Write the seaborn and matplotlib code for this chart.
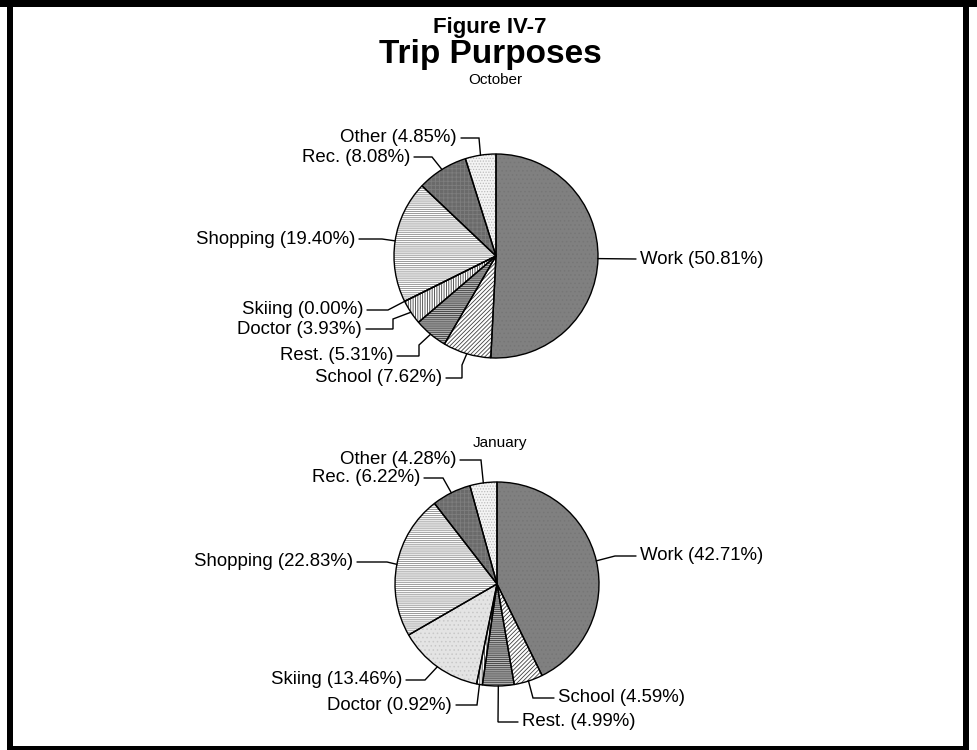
import numpy as np
import matplotlib
matplotlib.use("Agg")
import matplotlib.pyplot as plt
from matplotlib.patches import Rectangle
import seaborn as sns

# ---------------- data ----------------
categories = ["Work", "School", "Rest.", "Doctor", "Skiing", "Shopping", "Rec.", "Other"]
october = [50.81, 7.62, 5.31, 3.93, 0.00, 19.40, 8.08, 4.85]
january = [42.71, 4.59, 4.99, 0.92, 13.46, 22.83, 6.22, 4.28]
month_titles = ["October", "January"]
fig_label = "Figure IV-7"
main_title = "Trip Purposes"

# ---------------- style ----------------
sns.set_theme(style="white")
plt.rcParams['font.family'] = ['Liberation Sans', 'DejaVu Sans']
plt.rcParams['hatch.linewidth'] = 0.6
plt.rcParams['text.color'] = 'black'

face = {"Work": "#808080", "School": "#ffffff", "Rest.": "#b4b4b4", "Doctor": "#ffffff",
        "Skiing": "#e4e4e4", "Shopping": "#ffffff", "Rec.": "#6a6a6a", "Other": "#f4f4f4"}
hatch = {"Work": "....", "School": "/" * 8, "Rest.": "-" * 8, "Doctor": "|" * 7,
         "Skiing": "....", "Shopping": "-" * 8, "Rec.": "++++", "Other": "......"}
hcol = {"Work": "#767676", "School": "#404040", "Rest.": "#383838", "Doctor": "#404040",
        "Skiing": "#c8c8c8", "Shopping": "#8a8a8a", "Rec.": "#7e7e7e", "Other": "#bcbcbc"}

W, H = 977, 750
LABEL_FS = 13.4

def Y(y):
    return H - y

# label layout (image pixel coords): text x, text y, alignment, elbow points
layout_oct = {
    "Work": (640, 259, "left", []),
    "School": (442, 378, "right", [(462, 378), (462, 365)]),
    "Rest.": (393, 356, "right", [(419, 356), (419, 345)]),
    "Doctor": (362, 329, "right", [(393, 329), (393, 319)]),
    "Skiing": (363, 310, "right", [(388, 310)]),
    "Shopping": (355, 239, "right", [(382, 239)]),
    "Rec.": (410, 157, "right", [(432, 157)]),
    "Other": (457, 138, "right", [(479, 138)]),
}
layout_jan = {
    "Work": (640, 556, "left", [(615, 556)]),
    "School": (558, 698, "left", [(533, 698)]),
    "Rest.": (522, 722, "left", [(498, 722)]),
    "Doctor": (452, 705, "right", [(477, 705)]),
    "Skiing": (402, 680, "right", [(425, 680)]),
    "Shopping": (353, 562, "right", [(387, 562)]),
    "Rec.": (420, 478, "right", [(443, 478)]),
    "Other": (456, 460, "right", [(481, 460)]),
}

fig = plt.figure(figsize=(W / 100, H / 100), dpi=100)
ax = fig.add_axes([0, 0, 1, 1])


def draw_pie(values, cx, cy, r, layout):
    wedges, _ = ax.pie(values, startangle=90, counterclock=False, center=(cx, Y(cy)),
                       radius=r, colors=[face[c] for c in categories],
                       wedgeprops=dict(linewidth=0))
    for w, c in zip(wedges, categories):
        w.set_hatch(hatch[c])
        w.set_edgecolor(hcol[c])
    ax.pie(values, startangle=90, counterclock=False, center=(cx, Y(cy)), radius=r,
           wedgeprops=dict(fill=False, edgecolor="black", linewidth=1.0))
    for w, c, v in zip(wedges, categories, values):
        tx, ty, ha, elbows = layout[c]
        mid = np.deg2rad((w.theta1 + w.theta2) / 2.0)
        ex, ey = cx + r * np.cos(mid), Y(cy) + r * np.sin(mid)
        sx = tx + (4 if ha == "right" else -4)
        pts = [(sx, Y(ty))] + [(x, Y(y)) for x, y in elbows] + [(ex, ey)]
        xs, ys = zip(*pts)
        ax.plot(xs, ys, color="black", lw=1.0, solid_joinstyle="miter")
        ax.text(tx, Y(ty), f"{c} ({v:.2f}%)", ha=ha, va="center",
                fontsize=LABEL_FS, color="black")


draw_pie(october, 496, 256, 102, layout_oct)
draw_pie(january, 497, 584, 102, layout_jan)

ax.set_xlim(0, W)
ax.set_ylim(0, H)
ax.set_aspect("auto")
ax.axis("off")

# titles
ax.text(490, Y(27), fig_label, ha="center", va="center", fontsize=16,
        fontweight="bold", color="black")
ax.text(490, Y(55), main_title, ha="center", va="center", fontsize=24,
        fontweight="bold", color="black")
ax.text(495, Y(80), month_titles[0], ha="center", va="center", fontsize=11, color="black")
ax.text(500, Y(443), month_titles[1], ha="center", va="center", fontsize=11, color="black")

# frame
for (x, y, w, h) in [(0, 0, W, 7), (7, 0, 6, H), (963, 0, 6, H), (7, 746, 962, 4)]:
    ax.add_patch(Rectangle((x, Y(y + h)), w, h, facecolor="black", edgecolor="none",
                           clip_on=False))

fig.savefig("out.png", dpi=100)
